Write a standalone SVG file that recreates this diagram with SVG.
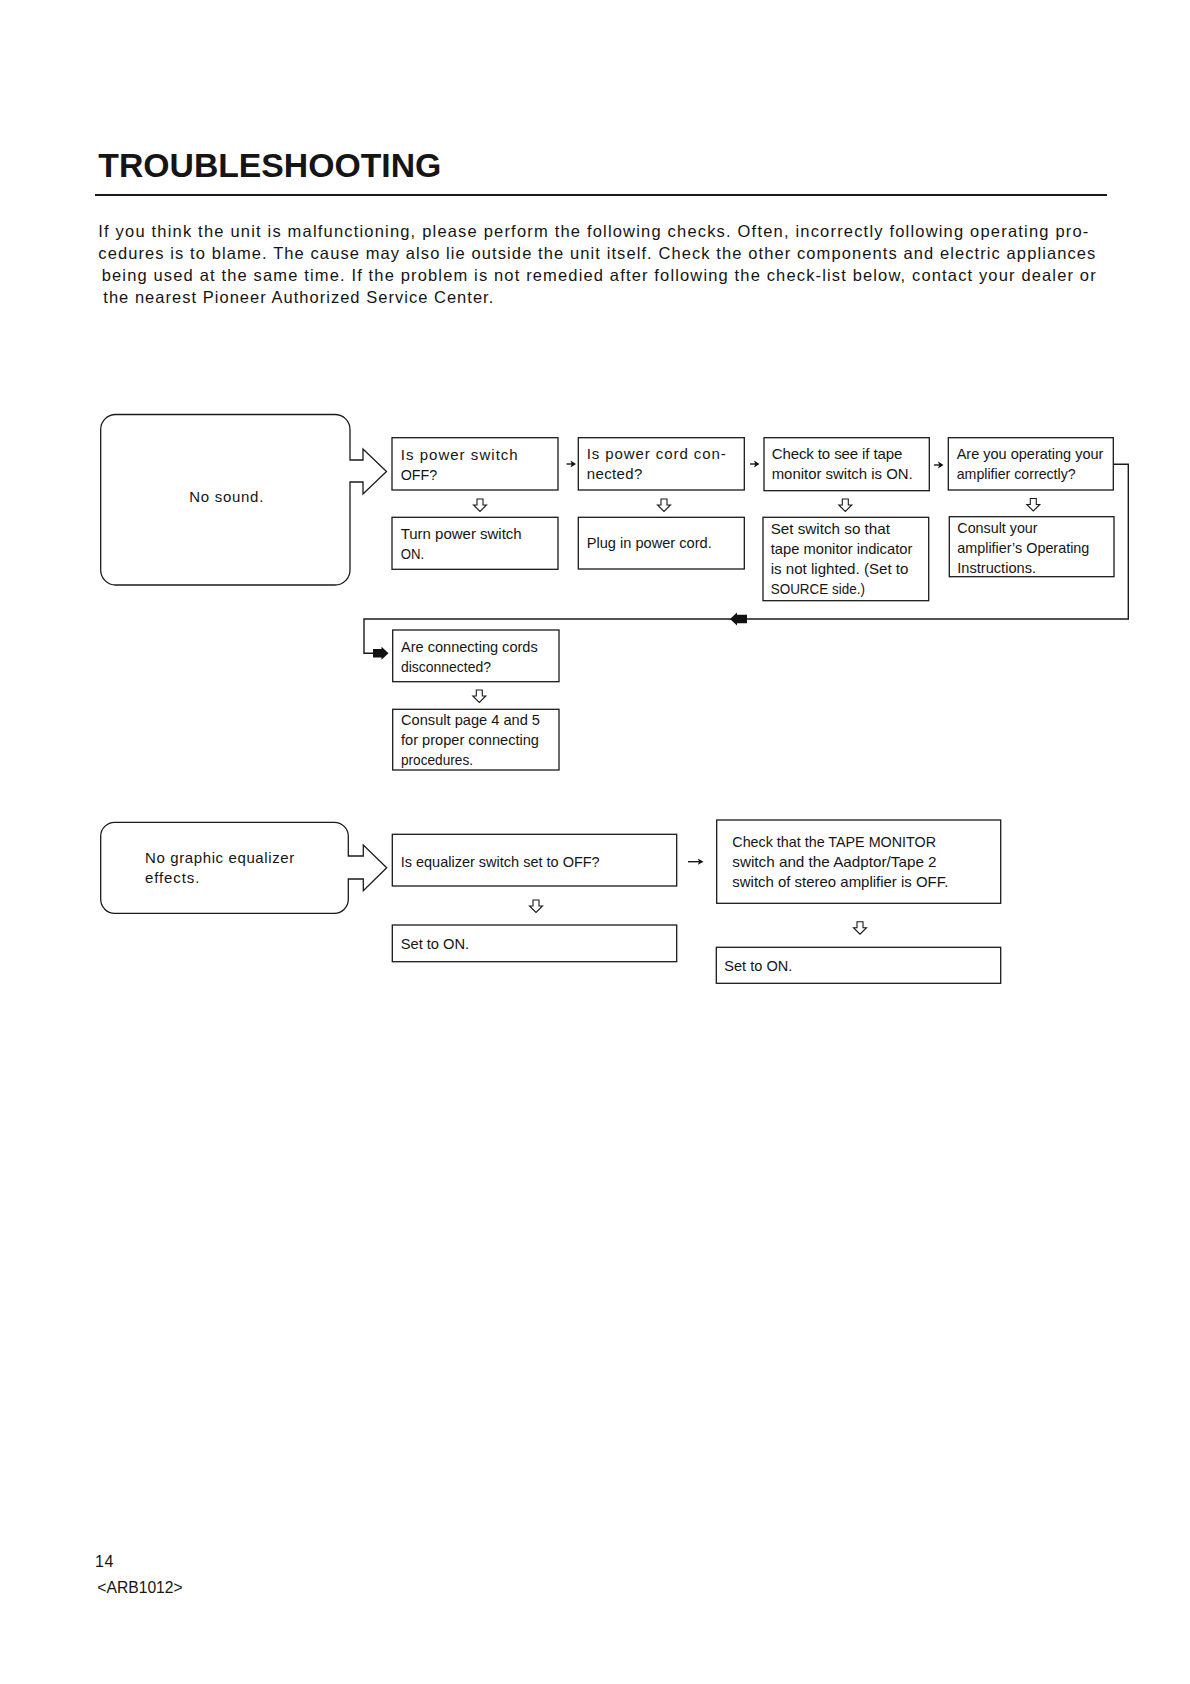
<svg xmlns="http://www.w3.org/2000/svg" xmlns:xlink="http://www.w3.org/1999/xlink" width="1190" height="1684" viewBox="0 0 1190 1684">
<style>
  text { font-family: "Liberation Sans", Arial, sans-serif; fill: #151515; }
  .t { font-size: 15px; }
  .n { font-size: 14.2px; }
  .body { font-size: 16.5px; }
  .title { font-size: 33px; font-weight: bold; }
  .box { fill: #fff; stroke: #1a1a1a; stroke-width: 1.3; }
  .ln { fill: none; stroke: #1a1a1a; stroke-width: 1.4; }
  .hol { fill: #fff; stroke: #1a1a1a; stroke-width: 1.1; stroke-linejoin: miter; }
  .fil { fill: #111; stroke: none; }
</style>
<defs>
  <path id="dn" d="M-3,0 H3 V6 H6.5 L0,12.5 L-6.5,6 H-3 Z"/>
</defs>
<rect width="1190" height="1684" fill="#fff"/>

<g id="header">
  <text class="title" x="98.3" y="177" textLength="343" lengthAdjust="spacingAndGlyphs">TROUBLESHOOTING</text>
  <line x1="95" y1="195" x2="1107" y2="195" stroke="#1a1a1a" stroke-width="1.8"/>
  <text class="body" x="98.3" y="237" textLength="990" lengthAdjust="spacing">If you think the unit is malfunctioning, please perform the following checks. Often, incorrectly following operating pro-</text>
  <text class="body" x="98.3" y="259" textLength="997" lengthAdjust="spacing">cedures is to blame. The cause may also lie outside the unit itself. Check the other components and electric appliances</text>
  <text class="body" x="101.7" y="281" textLength="994" lengthAdjust="spacing">being used at the same time. If the problem is not remedied after following the check-list below, contact your dealer or</text>
  <text class="body" x="103.3" y="303" textLength="390" lengthAdjust="spacing">the nearest Pioneer Authorized Service Center.</text>
</g>

<g id="connectors">
  <path class="ln" d="M566.5,464 H573" stroke-width="1.2"/>
  <polygon class="fil" points="576,464 570.5,460.6 571.8,464 570.5,467.4"/>
  <path class="ln" d="M750,464 H756.5" stroke-width="1.2"/>
  <polygon class="fil" points="759.5,464 754,460.6 755.3,464 754,467.4"/>
  <path class="ln" d="M934,465 H940.5" stroke-width="1.2"/>
  <polygon class="fil" points="943.5,465 938,461.6 939.3,465 938,468.4"/>
  <use xlink:href="#dn" href="#dn" class="hol" x="480" y="499"/>
  <use xlink:href="#dn" href="#dn" class="hol" x="664" y="499"/>
  <use xlink:href="#dn" href="#dn" class="hol" x="845.3" y="499"/>
  <use xlink:href="#dn" href="#dn" class="hol" x="1033.3" y="498.5"/>
  <use xlink:href="#dn" href="#dn" class="hol" x="479.3" y="690"/>
  <use xlink:href="#dn" href="#dn" class="hol" x="536" y="900"/>
  <use xlink:href="#dn" href="#dn" class="hol" x="860" y="921.7"/>
  <path class="ln" d="M1113.3,464.3 H1128.3 V619 H364 V653.3 H376"/>
  <polygon class="fil" points="730,619 737,612.5 737,614.8 747,614.8 747,623.2 737,623.2 737,625.5"/>
  <polygon class="fil" points="388.5,653.3 381.5,646.8 381.5,649.1 373,649.1 373,657.5 381.5,657.5 381.5,659.8"/>
  <path class="ln" d="M688,861.7 H700" stroke-width="1.1"/>
  <polygon class="fil" points="703.5,861.7 697.8,858.6 699.2,861.7 697.8,864.8"/>
</g>

<g id="node-no-sound">
  <path class="box" d="M115.7,414.5 H335 A15,15 0 0 1 350,429.5 V460 H363 V449 L386.5,471.5 L363,494 V482 H350 V570 A15,15 0 0 1 335,585 H115.7 A15,15 0 0 1 100.7,570 V429.5 A15,15 0 0 1 115.7,414.5 Z"/>
  <text class="t" x="189.3" y="501.7" textLength="74" lengthAdjust="spacing">No sound.</text>
</g>

<g id="node-power-switch">
  <rect class="box" x="392" y="437.7" width="166" height="52.3"/>
  <text class="t" x="400.7" y="460" textLength="117" lengthAdjust="spacing">Is power switch</text>
  <text class="t" x="400.7" y="480" textLength="36.5" lengthAdjust="spacingAndGlyphs">OFF?</text>
</g>
<g id="node-power-cord">
  <rect class="box" x="578.3" y="437.7" width="166" height="52.3"/>
  <text class="t" x="586.7" y="459.3" textLength="139" lengthAdjust="spacing">Is power cord con-</text>
  <text class="t" x="586.7" y="479.3" textLength="55.7" lengthAdjust="spacing">nected?</text>
</g>
<g id="node-tape-monitor">
  <rect class="box" x="764" y="437.7" width="165.3" height="53"/>
  <text class="t" x="771.7" y="459.3" textLength="130.7" lengthAdjust="spacing">Check to see if tape</text>
  <text class="t" x="771.7" y="479.3" textLength="141" lengthAdjust="spacingAndGlyphs">monitor switch is ON.</text>
</g>
<g id="node-amplifier">
  <rect class="box" x="948.3" y="437.7" width="165" height="52.3"/>
  <text class="t" x="956.7" y="459.3" textLength="146.7" lengthAdjust="spacingAndGlyphs">Are you operating your</text>
  <text class="t" x="956.7" y="479.3" textLength="119" lengthAdjust="spacingAndGlyphs">amplifier correctly?</text>
</g>

<g id="node-turn-on">
  <rect class="box" x="392" y="517.3" width="166" height="52"/>
  <text class="t" x="400.7" y="539.3" textLength="121" lengthAdjust="spacingAndGlyphs">Turn power switch</text>
  <text class="t" x="400.7" y="559.3" textLength="23.5" lengthAdjust="spacingAndGlyphs">ON.</text>
</g>
<g id="node-plug-in">
  <rect class="box" x="578.3" y="517.3" width="166" height="51.7"/>
  <text class="t" x="586.7" y="548.3" textLength="125" lengthAdjust="spacingAndGlyphs">Plug in power cord.</text>
</g>
<g id="node-set-switch">
  <rect class="box" x="763" y="517.3" width="165.7" height="83.4"/>
  <text class="t" x="770.7" y="534" textLength="119.3" lengthAdjust="spacingAndGlyphs">Set switch so that</text>
  <text class="t" x="770.7" y="554" textLength="141.7" lengthAdjust="spacingAndGlyphs">tape monitor indicator</text>
  <text class="t" x="770.7" y="574" textLength="137.7" lengthAdjust="spacingAndGlyphs">is not lighted. (Set to</text>
  <text class="t" x="770.7" y="594" textLength="94.3" lengthAdjust="spacingAndGlyphs">SOURCE side.)</text>
</g>
<g id="node-consult-amp">
  <rect class="box" x="949.3" y="516.7" width="164.7" height="60"/>
  <text class="t" x="957.3" y="533.3" textLength="80.3" lengthAdjust="spacingAndGlyphs">Consult your</text>
  <text class="t" x="957.3" y="553.3" textLength="132" lengthAdjust="spacingAndGlyphs">amplifier’s Operating</text>
  <text class="t" x="957.3" y="572.7" textLength="78.7" lengthAdjust="spacingAndGlyphs">Instructions.</text>
</g>

<g id="node-cords">
  <rect class="box" x="392.7" y="630" width="166.3" height="51.7"/>
  <text class="t" x="401" y="652.3" textLength="136.7" lengthAdjust="spacingAndGlyphs">Are connecting cords</text>
  <text class="t" x="401" y="671.7" textLength="90" lengthAdjust="spacingAndGlyphs">disconnected?</text>
</g>
<g id="node-consult-page">
  <rect class="box" x="392.7" y="709.3" width="166.3" height="60.7"/>
  <text class="t" x="401" y="725" textLength="139" lengthAdjust="spacingAndGlyphs">Consult page 4 and 5</text>
  <text class="t" x="401" y="745" textLength="138" lengthAdjust="spacingAndGlyphs">for proper connecting</text>
  <text class="t" x="401" y="764.5" textLength="72" lengthAdjust="spacingAndGlyphs">procedures.</text>
</g>

<g id="node-no-eq">
  <path class="box" d="M114.7,822.3 H334.3 A14,14 0 0 1 348.3,836.3 V856 H363.3 V845 L386.7,867.8 L363.3,890.7 V879 H348.3 V899.3 A14,14 0 0 1 334.3,913.3 H114.7 A14,14 0 0 1 100.7,899.3 V836.3 A14,14 0 0 1 114.7,822.3 Z"/>
  <text class="t" x="145" y="863.3" textLength="149.3" lengthAdjust="spacing">No graphic equalizer</text>
  <text class="t" x="145" y="882.7" textLength="54.3" lengthAdjust="spacing">effects.</text>
</g>
<g id="node-eq-switch">
  <rect class="box" x="392.3" y="834.3" width="284.4" height="51.7"/>
  <text class="n" x="400.7" y="866.7" textLength="199" lengthAdjust="spacingAndGlyphs">Is equalizer switch set to OFF?</text>
</g>
<g id="node-eq-set-on">
  <rect class="box" x="392.3" y="925" width="284.4" height="36.7"/>
  <text class="n" x="400.7" y="949.3" textLength="68.5" lengthAdjust="spacingAndGlyphs">Set to ON.</text>
</g>
<g id="node-tape-check">
  <rect class="box" x="716.7" y="820" width="284" height="83.3"/>
  <text class="n" x="732.3" y="847.3" textLength="203.7" lengthAdjust="spacingAndGlyphs">Check that the TAPE MONITOR</text>
  <text class="n" x="732.3" y="867.3" textLength="204.3" lengthAdjust="spacingAndGlyphs">switch and the Aadptor/Tape 2</text>
  <text class="n" x="732.3" y="887.3" textLength="216" lengthAdjust="spacingAndGlyphs">switch of stereo amplifier is OFF.</text>
</g>
<g id="node-tape-set-on">
  <rect class="box" x="716.3" y="947.3" width="284.4" height="36"/>
  <text class="n" x="724.3" y="970.7" textLength="68" lengthAdjust="spacingAndGlyphs">Set to ON.</text>
</g>

<g id="footer">
  <text x="95" y="1567.3" font-size="16" letter-spacing="0.5">14</text>
  <text x="97.3" y="1592.7" font-size="16" textLength="85.4" lengthAdjust="spacingAndGlyphs">&lt;ARB1012&gt;</text>
</g>
</svg>
